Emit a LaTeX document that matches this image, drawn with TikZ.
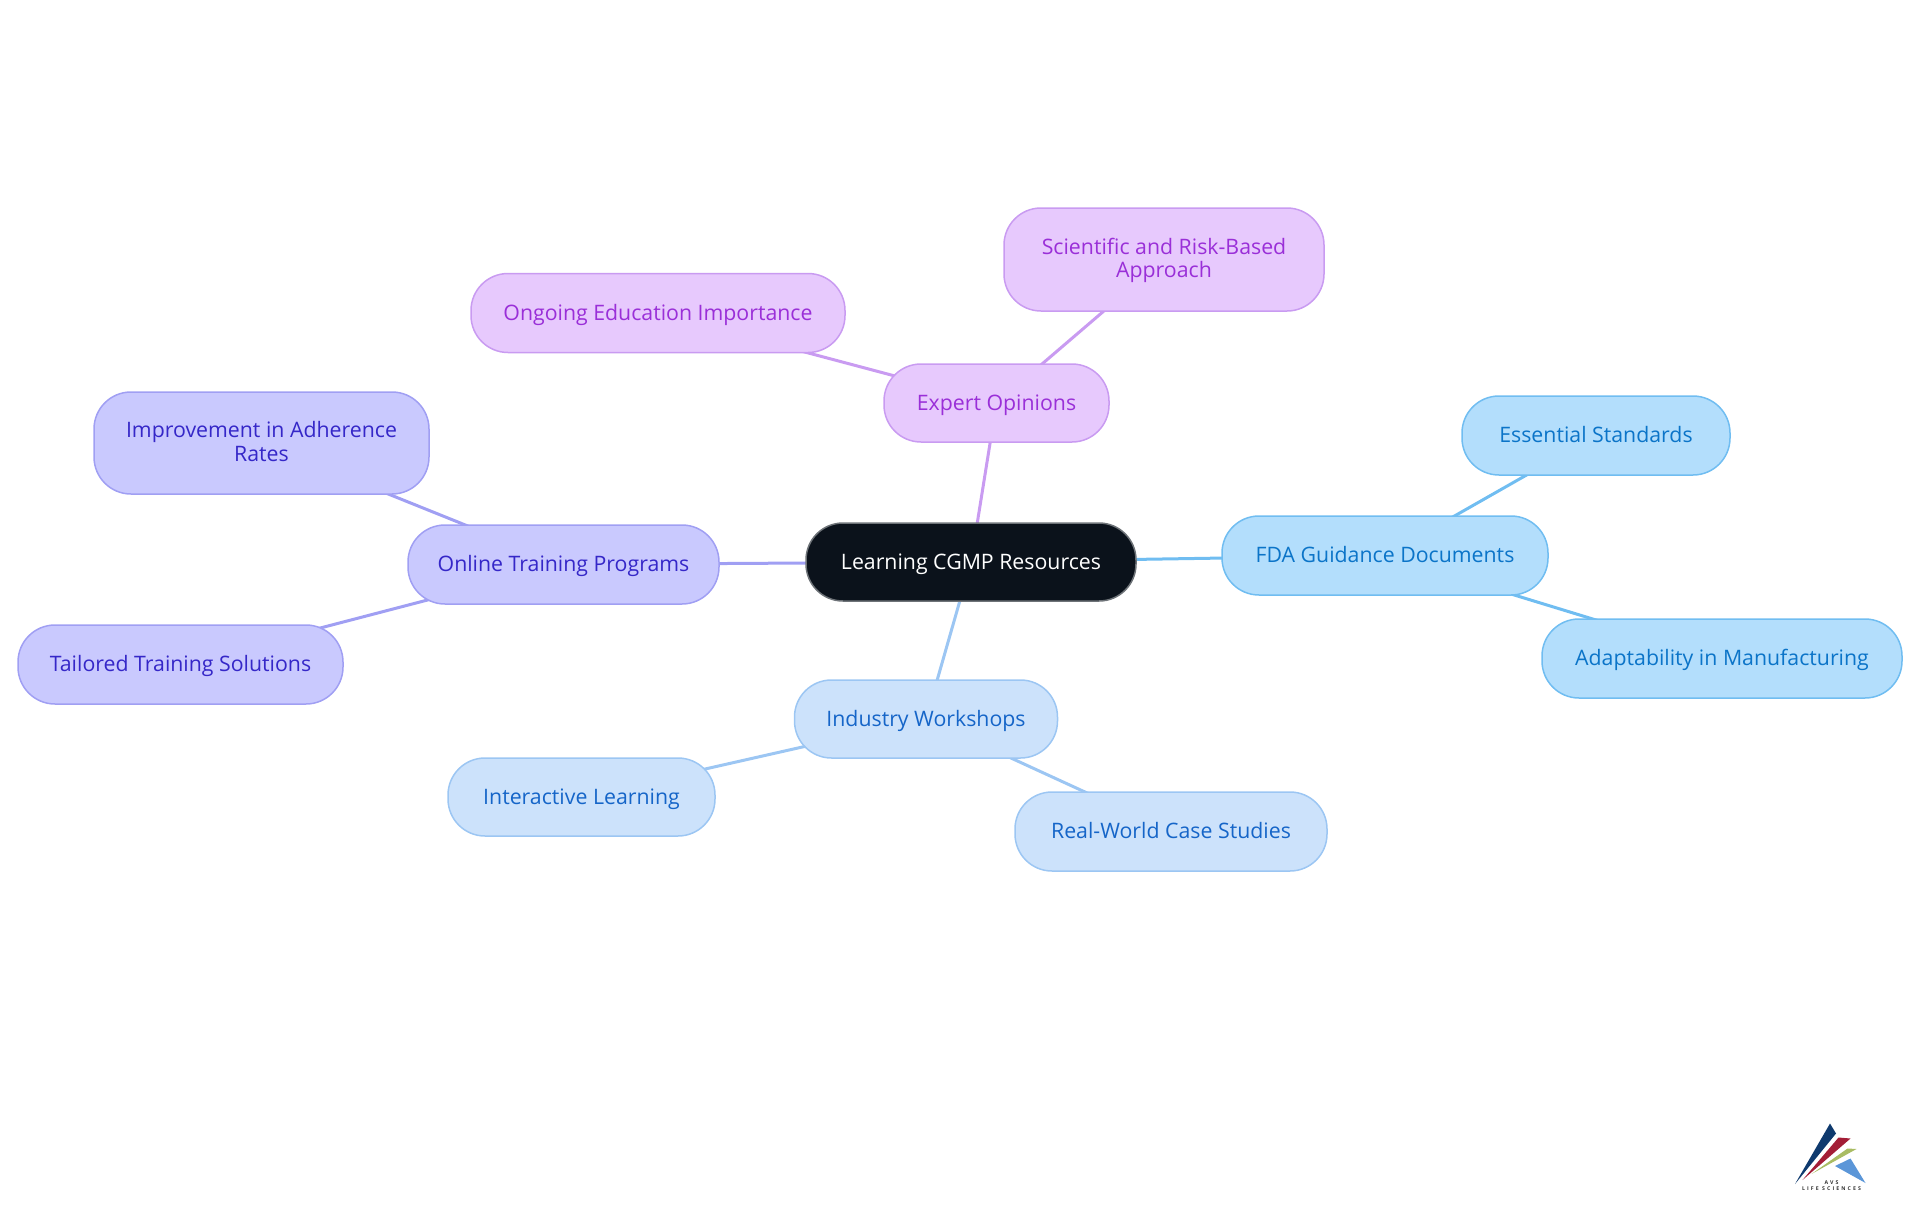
\documentclass[tikz,border=0pt]{standalone}
\usepackage{fontspec}
\setmainfont{Open Sans}
\usetikzlibrary{backgrounds}
\definecolor{rootfill}{HTML}{0B121B}
\definecolor{rootline}{HTML}{6E7378}
\definecolor{workfill}{HTML}{CCE2FB}
\definecolor{workline}{HTML}{9CC6F3}
\definecolor{worktext}{HTML}{1565C8}
\definecolor{fdafill}{HTML}{B3DEFC}
\definecolor{fdaline}{HTML}{70BDF1}
\definecolor{fdatext}{HTML}{0B74C8}
\definecolor{onlinefill}{HTML}{C9C9FE}
\definecolor{onlineline}{HTML}{A09FF3}
\definecolor{onlinetext}{HTML}{3527C8}
\definecolor{expertfill}{HTML}{E7C9FD}
\definecolor{expertline}{HTML}{C99BF1}
\definecolor{experttext}{HTML}{9A2FD8}
\definecolor{logonavy}{HTML}{0F3A6E}
\definecolor{logored}{HTML}{A31D36}
\definecolor{logogreen}{HTML}{A9BC63}
\definecolor{logoblue}{HTML}{5B96D8}
\tikzset{
  mind/.style={draw, rectangle, rounded corners=37pt, line width=1.5pt, inner sep=0pt, align=center, text height=17pt, text depth=3pt, font=\fontsize{21.3}{23.5}\selectfont},
  twolines/.style={text height=38pt, text depth=2pt},
  rootnode/.style={mind, fill=rootfill, draw=rootline, text=white},
  work/.style={mind, fill=workfill, draw=workline, text=worktext},
  fda/.style={mind, fill=fdafill, draw=fdaline, text=fdatext},
  online/.style={mind, fill=onlinefill, draw=onlineline, text=onlinetext},
  expert/.style={mind, fill=expertfill, draw=expertline, text=experttext},
  link/.style={line width=3pt},
  logotext/.style={font=\fontsize{5.2}{6}\selectfont\bfseries\addfontfeature{LetterSpace=40}, text=black!80, inner sep=0pt}
}
\begin{document}
\begin{tikzpicture}[x=1pt,y=-1pt]
\useasboundingbox (0,0) rectangle (1920,1215);
\node[rootnode, minimum width=330pt, minimum height=78pt] (root) at (971,562) {Learning CGMP Resources};
\node[expert, minimum width=225pt, minimum height=78pt] (opinions) at (996.5,403) {Expert Opinions};
\node[expert, twolines, minimum width=320pt, minimum height=103pt] (approach) at (1164,259.5) {Scientific and Risk-Based\\Approach};
\node[expert, minimum width=374pt, minimum height=79pt] (ongoing) at (658,313) {Ongoing Education Importance};
\node[online, minimum width=311pt, minimum height=79pt] (training) at (563.5,564.5) {Online Training Programs};
\node[online, twolines, minimum width=335pt, minimum height=102pt] (adherence) at (261.5,443) {Improvement in Adherence\\Rates};
\node[online, minimum width=325pt, minimum height=79pt] (tailored) at (180.5,664.5) {Tailored Training Solutions};
\node[work, minimum width=263pt, minimum height=78pt] (workshops) at (926,719) {Industry Workshops};
\node[work, minimum width=267pt, minimum height=78pt] (interactive) at (581.5,797) {Interactive Learning};
\node[work, minimum width=312pt, minimum height=79pt] (cases) at (1171,831.5) {Real-World Case Studies};
\node[fda, minimum width=326pt, minimum height=79pt] (guidance) at (1385,555.5) {FDA Guidance Documents};
\node[fda, minimum width=268pt, minimum height=79pt] (standards) at (1596,435.5) {Essential Standards};
\node[fda, minimum width=360pt, minimum height=79pt] (adaptability) at (1722,658.5) {Adaptability in Manufacturing};
\begin{scope}[on background layer]
\draw[link, expertline] (root.center) -- (opinions.center);
\draw[link, expertline] (opinions.center) -- (approach.center);
\draw[link, expertline] (opinions.center) -- (ongoing.center);
\draw[link, onlineline] (root.center) -- (training.center);
\draw[link, onlineline] (training.center) -- (adherence.center);
\draw[link, onlineline] (training.center) -- (tailored.center);
\draw[link, workline] (root.center) -- (workshops.center);
\draw[link, workline] (workshops.center) -- (interactive.center);
\draw[link, workline] (workshops.center) -- (cases.center);
\draw[link, fdaline] (root.center) -- (guidance.center);
\draw[link, fdaline] (guidance.center) -- (standards.center);
\draw[link, fdaline] (guidance.center) -- (adaptability.center);
\end{scope}
% logo
\fill[logonavy] (1795,1184) -- (1830,1123.5) -- (1836,1133.5) -- cycle;
\fill[logored] (1802.5,1180) -- (1838.5,1137.5) -- (1850.5,1138.5) -- cycle;
\fill[logogreen] (1811.5,1174) -- (1847.5,1148.5) -- (1856.5,1149) -- cycle;
\fill[logoblue] (1835,1166) -- (1850.5,1158.5) -- (1865.5,1183) -- cycle;
\node[logotext] (avs) at (1831.5,1182.5) {AVS};
\node[logotext] (life) at (1831.5,1189) {LIFE SCIENCES};
\end{tikzpicture}
\end{document}
